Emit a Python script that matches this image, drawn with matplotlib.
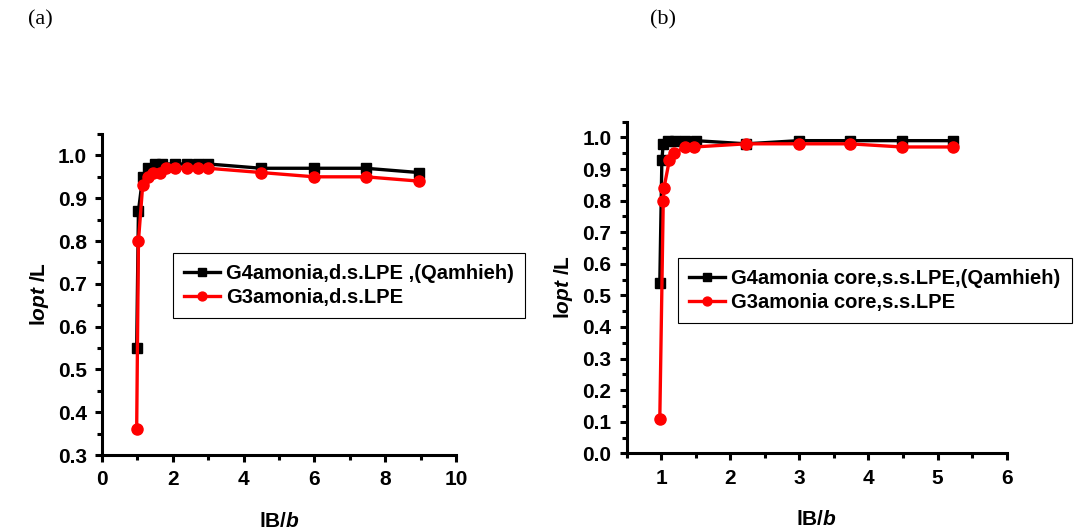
import matplotlib
matplotlib.use("Agg")
import matplotlib.pyplot as plt
from matplotlib.ticker import MultipleLocator

plt.rcParams["font.family"] = "Liberation Sans"
plt.rcParams["font.weight"] = "bold"
plt.rcParams["axes.labelweight"] = "bold"
plt.rcParams["mathtext.fontset"] = "custom"
plt.rcParams["mathtext.it"] = "Liberation Sans:italic:bold"
plt.rcParams["mathtext.rm"] = "Liberation Sans:bold"

# (a) d.s. LPE
a_x_g4 = [0.98, 1.03, 1.15, 1.3, 1.5, 1.7, 2.05, 2.4, 2.7, 3.0, 4.5, 6.0, 7.45, 8.95]
a_y_g4 = [0.55, 0.87, 0.95, 0.97, 0.98, 0.98, 0.98, 0.98, 0.98, 0.98, 0.97, 0.97, 0.97, 0.96]
a_x_g3 = [0.98, 1.03, 1.15, 1.3, 1.45, 1.65, 1.8, 2.05, 2.4, 2.7, 3.0, 4.5, 6.0, 7.45, 8.95]
a_y_g3 = [0.36, 0.80, 0.93, 0.95, 0.96, 0.96, 0.97, 0.97, 0.97, 0.97, 0.97, 0.96, 0.95, 0.95, 0.94]

# (b) s.s. LPE
b_x_g4 = [0.98, 1.01, 1.03, 1.1, 1.2, 1.34, 1.5, 2.23, 2.99, 3.73, 4.48, 5.22]
b_y_g4 = [0.54, 0.93, 0.98, 0.99, 0.99, 0.99, 0.99, 0.98, 0.99, 0.99, 0.99, 0.99]
b_x_g3 = [0.98, 1.03, 1.04, 1.12, 1.19, 1.34, 1.48, 2.23, 2.99, 3.73, 4.48, 5.22]
b_y_g3 = [0.11, 0.80, 0.84, 0.93, 0.95, 0.97, 0.97, 0.98, 0.98, 0.98, 0.97, 0.97]

fig = plt.figure(figsize=(10.78, 5.31), dpi=100)
ax1 = fig.add_axes([0.0946, 0.1431, 0.3284, 0.6045])
ax2 = fig.add_axes([0.5813, 0.1463, 0.3525, 0.6245])


def style(ax):
    for s in ("top", "right"):
        ax.spines[s].set_visible(False)
    for s in ("left", "bottom"):
        ax.spines[s].set_linewidth(2.2)
    ax.tick_params(which="major", direction="out", length=5, width=2.2,
                   labelsize=15, pad=6)
    ax.tick_params(which="minor", direction="out", length=3.5, width=2.2)
    ax.set_xlabel(r"lB$\it{/b}$", fontsize=15, labelpad=16)
    ax.set_ylabel(r"l$\it{opt}$ /L", fontsize=15, labelpad=5)


kw_g4 = dict(color="black", marker="s", markersize=7, linewidth=2.4)
kw_g3 = dict(color="red", marker="o", markersize=8, linewidth=2.4)

ax1.plot(a_x_g4, a_y_g4, label="G4amonia,d.s.LPE ,(Qamhieh)", **kw_g4)
ax1.plot(a_x_g3, a_y_g3, label="G3amonia,d.s.LPE", **kw_g3)
ax1.set_xlim(0, 10)
ax1.set_ylim(0.3, 1.05)
ax1.xaxis.set_major_locator(MultipleLocator(2))
ax1.xaxis.set_minor_locator(MultipleLocator(1))
ax1.yaxis.set_major_locator(MultipleLocator(0.1))
ax1.yaxis.set_minor_locator(MultipleLocator(0.05))
style(ax1)

ax2.plot(b_x_g4, b_y_g4, label="G4amonia core,s.s.LPE,(Qamhieh)", **kw_g4)
ax2.plot(b_x_g3, b_y_g3, label="G3amonia core,s.s.LPE", **kw_g3)
ax2.set_xlim(0.5, 6)
ax2.set_ylim(0.0, 1.05)
ax2.xaxis.set_major_locator(MultipleLocator(1))
ax2.xaxis.set_minor_locator(MultipleLocator(0.5))
ax2.yaxis.set_major_locator(MultipleLocator(0.1))
ax2.yaxis.set_minor_locator(MultipleLocator(0.05))
style(ax2)

for ax, anchor in ((ax1, (0.1605, 0.5235)), (ax2, (0.629, 0.514))):
    leg = ax.legend(loc="upper left", bbox_to_anchor=anchor,
                    bbox_transform=fig.transFigure, borderaxespad=0,
                    fancybox=False, framealpha=1, edgecolor="black",
                    fontsize=14.5, handlelength=1.8, handletextpad=0.3,
                    borderpad=0.55, labelspacing=0.25, markerscale=0.8)
    leg.get_frame().set_linewidth(0.8)

fig.text(0.026, 0.962, "(a)", fontsize=16, family="Liberation Serif",
         weight="normal", va="center")
fig.text(0.603, 0.962, "(b)", fontsize=16, family="Liberation Serif",
         weight="normal", va="center")

fig.savefig("out.png", dpi=100)
